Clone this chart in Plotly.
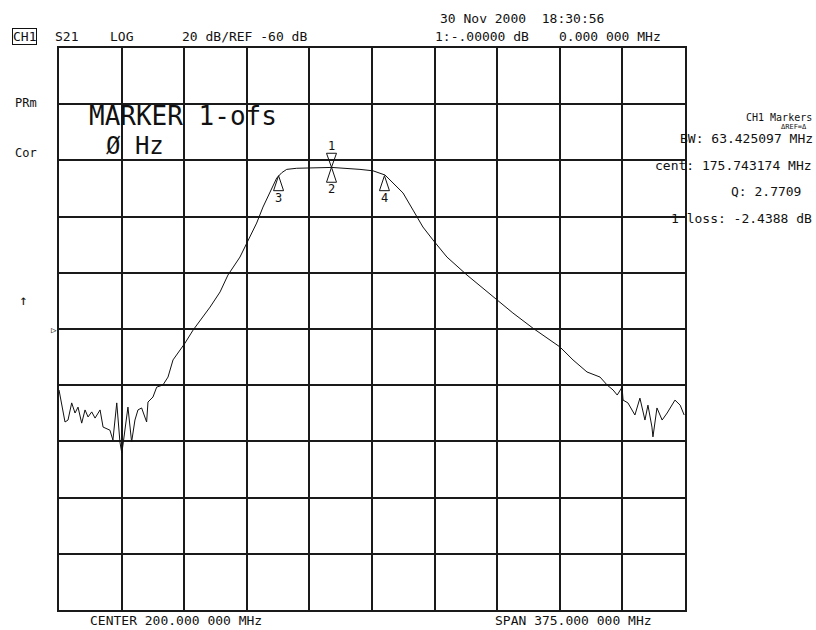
import plotly.graph_objects as go

# ---- data ----
freq_mhz = [12.5, 13.7, 16.1, 17.9, 20.1, 22.1, 23.9, 26.1, 28.1, 29.9, 32.1, 34.1, 37.1, 38.9,
            43.0, 44.8, 47.1, 49.0, 50.1, 50.8, 53.8, 56.0, 58.0, 59.8, 62.0, 65.0, 65.8, 68.8,
            71.0, 74.8, 77.8, 80.8, 88.0, 92.8, 103.0, 109.0, 113.7, 120.9, 125.1, 130.9, 134.7,
            138.9, 142.9, 145.9, 148.9, 154.9, 175.9, 192.8, 200.6, 207.8, 212.6, 218.6, 224.6,
            230.5, 236.5, 244.9, 256.9, 274.9, 284.4, 296.4, 312.6, 320.4, 328.8, 336.6, 340.8,
            344.4, 346.9, 349.8, 350.4, 353.3, 357.5, 360.5, 363.5, 365.3, 367.7, 368.3, 370.7,
            373.8, 376.8, 381.5, 384.6, 387.0]
s21_db = [-81.7, -85.3, -93.1, -92.4, -86.3, -89.9, -87.8, -93.5, -88.8, -91.3, -89.5, -91.7, -88.8, -94.9,
          -96.0, -99.5, -86.3, -100.2, -104.1, -101.3, -87.8, -100.2, -92.4, -88.8, -88.1, -93.1, -86.0, -84.2,
          -80.7, -79.9, -77.1, -71.0, -65.0, -60.4, -52.2, -46.8, -40.8, -34.4, -29.4, -22.3, -16.6,
          -11.3, -6.3, -4.4, -3.2, -2.8, -2.5, -3.2, -3.7, -5.2, -8.0, -11.6, -17.7,
          -23.7, -28.3, -34.4, -40.8, -49.7, -54.3, -59.7, -66.4, -71.0, -75.3, -77.1, -79.9,
          -81.7, -83.5, -80.7, -85.3, -86.3, -90.6, -84.6, -92.4, -87.1, -94.9, -98.4, -88.1,
          -92.4, -89.9, -85.3, -87.1, -90.6]

center_mhz = 200.0
span_mhz = 375.0
ref_db = -60.0
db_per_div = 20.0

marker_ids = ["1", "2", "3", "4"]
marker_freq = [175.743174, 175.743174, 144.030626, 207.455723]
marker_db = [-2.4388, -2.4388, -5.4388, -5.4388]
marker_dir = ["down", "up", "up", "up"]

# ---- layout helpers (window pixel -> paper); body margin removed via post_script ----
FW, FH = 816, 630
L, R, T, B = 59, 685, 48, 610
def px(x):
    return (x - L) / (R - L)
def py(y):
    return (B - y) / (B - T)

FONT = "DejaVu Sans Mono"
INK = "#111111"
GRID = "#1a1a1a"

fig = go.Figure()
fig.add_trace(go.Scatter(x=freq_mhz, y=s21_db, mode="lines",
                         line=dict(color=INK, width=1), hoverinfo="skip", showlegend=False))

x0 = center_mhz - span_mhz / 2
x1 = center_mhz + span_mhz / 2
y0 = ref_db - 5 * db_per_div
y1 = ref_db + 5 * db_per_div

axis_common = dict(showgrid=True, gridcolor=GRID, gridwidth=1.5, zeroline=False,
                   showticklabels=False, ticks="", showline=True, linecolor=GRID,
                   linewidth=1.8, mirror=True, fixedrange=True)
fig.update_xaxes(range=[x0, x1], dtick=span_mhz / 10, tick0=x0, **axis_common)
fig.update_yaxes(range=[y0, y1], dtick=db_per_div, tick0=y0, **axis_common)

shapes = []
annots = []
for mid, f, d, direc in zip(marker_ids, marker_freq, marker_db, marker_dir):
    if direc == "down":
        path = "M0,0 L-5,14 L5,14 Z"
        shift = 21
    else:
        path = "M0,0 L-5,-15 L5,-15 Z"
        shift = -22
    shapes.append(dict(type="path", xref="x", yref="y", xsizemode="pixel", ysizemode="pixel",
                       xanchor=f, yanchor=d, path=path, line=dict(color=INK, width=1)))
    annots.append(dict(x=f, y=d, xref="x", yref="y", text=mid, showarrow=False,
                       yshift=shift, font=dict(family=FONT, size=12, color=INK)))

def txt(t, x, y, size=13, anchor="left", **kw):
    annots.append(dict(text=t, x=px(x), y=py(y), xref="paper", yref="paper",
                       xanchor=anchor, yanchor="middle", showarrow=False,
                       font=dict(family=FONT, size=size, color=INK), **kw))

# header
txt("30 Nov 2000  18:30:56", 438, 18)
txt("1:-.00000 dB", 433, 37)
txt("0.000 000 MHz", 557, 37)
txt("CH1", 12, 37, bordercolor=INK, borderwidth=1, borderpad=0)
txt("S21", 53, 37)
txt("LOG", 108, 37)
txt("20 dB/REF -60 dB", 180, 37)
# left side
txt("PRm", 13, 103, size=12)
txt("Cor", 13, 153, size=12)
txt("↑", 23, 300, size=14, anchor="center")
txt("▷", 59, 330, size=9, anchor="right")
# big marker readout
txt("MARKER 1-ofs", 88, 116, size=26, borderpad=0)
txt("Ø Hz", 105, 146, size=24, borderpad=0)
# right panel
txt("CH1 Markers", 813, 117, size=10, anchor="right", borderpad=0)
txt("ΔREF=Δ", 808, 127, size=7, anchor="right", borderpad=0)
txt("BW: 63.425097 MHz", 814, 138, anchor="right", borderpad=0)
txt("cent: 175.743174 MHz", 814, 165, anchor="right")
txt("Q: 2.7709", 803, 191, anchor="right")
txt("1 loss: -2.4388 dB", 814, 219, anchor="right")
# bottom
txt("CENTER 200.000 000 MHz", 88, 620)
txt("SPAN 375.000 000 MHz", 493, 620)

fig.update_layout(width=FW, height=FH, margin=dict(l=L, r=FW - R, t=T, b=FH - B),
                  paper_bgcolor="white", plot_bgcolor="white",
                  shapes=shapes, annotations=annots, showlegend=False)

fig.write_html("out.html", config={"displayModeBar": False},
               post_script="document.body.style.margin='0';document.body.style.overflow='hidden';")
